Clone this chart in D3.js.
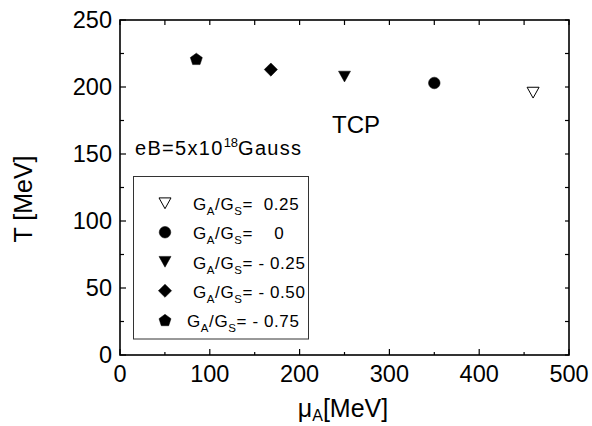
<!DOCTYPE html>
<html>
<head>
<meta charset="utf-8">
<script src="https://cdn.jsdelivr.net/npm/d3@7"></script>
<style>
  body { margin: 0; background: #fff; }
  svg text { font-family: "Liberation Sans", Arial, sans-serif; fill: #000; white-space: pre; }
</style>
</head>
<body>
<div id="chart"></div>
<script>
// data
const ratios = ['0.25', '0', '-0.25', '-0.50', '-0.75']
const symbols = ['triangleOpen', 'circle', 'triangle', 'diamond', 'pentagon']
const muA = [460, 350, 250, 168, 85]
const temp = [196, 203, 208, 213, 221]
const legendValues = ['  0.25', '    0', ' - 0.25', ' - 0.50', ' - 0.75']
const xTicks = [0, 100, 200, 300, 400, 500]
const yTicks = [0, 50, 100, 150, 200, 250]

const W = 592, H = 426
const m = { left: 120, right: 23, top: 20, bottom: 71 }

const svg = d3.select('#chart').append('svg')
  .attr('width', W).attr('height', H)

const x = d3.scaleLinear().domain([0, 500]).range([m.left, W - m.right])
const y = d3.scaleLinear().domain([0, 250]).range([H - m.bottom, m.top])

// ---- axes: ticks point inward, like Origin does
function ticks(axis, len, vals) {
  const g = svg.append('g')
  vals.forEach(v => {
    let l = g.append('line').attr('stroke', '#000').attr('stroke-width', 1.2)
    if (axis == 'bottom') l.attr('x1', x(v)).attr('x2', x(v)).attr('y1', y(0)).attr('y2', y(0) - len)
    if (axis == 'top') l.attr('x1', x(v)).attr('x2', x(v)).attr('y1', y(250)).attr('y2', y(250) + len)
    if (axis == 'left') l.attr('y1', y(v)).attr('y2', y(v)).attr('x1', x(0)).attr('x2', x(0) + len)
    if (axis == 'right') l.attr('y1', y(v)).attr('y2', y(v)).attr('x1', x(500)).attr('x2', x(500) - len)
  })
}
const xMinor = d3.range(50, 500, 100)
const yMinor = d3.range(25, 250, 50)
ticks('bottom', 6, xTicks)
ticks('bottom', 3, xMinor)
ticks('left', 6, yTicks)
ticks('left', 4, yMinor)
ticks('top', 5, xTicks.concat(xMinor))
ticks('right', 4, yTicks.concat(yMinor))

svg.append('rect')
  .attr('x', x(0)).attr('y', y(250))
  .attr('width', x(500) - x(0)).attr('height', y(0) - y(250))
  .attr('fill', 'none').attr('stroke', '#000').attr('stroke-width', 1.6)

svg.append('g').selectAll('text')
  .data(xTicks).enter().append('text')
  .attr('x', d => x(d)).attr('y', y(0) + 27)
  .attr('text-anchor', 'middle').attr('font-size', 23.5)
  .text(d => d)

svg.append('g').selectAll('text')
  .data(yTicks).enter().append('text')
  .attr('x', x(0) - 8).attr('y', d => y(d)).attr('dy', '0.36em')
  .attr('text-anchor', 'end').attr('font-size', 23.5)
  .text(d => d)

// axis titles
let xl = svg.append('text')
  .attr('x', 343).attr('y', 417).attr('text-anchor', 'middle').attr('font-size', 25)
xl.append('tspan').text('μ')
xl.append('tspan').attr('font-size', 16).attr('dy', 4).text('A')
xl.append('tspan').attr('dy', -4).text('[MeV]')

svg.append('text')
  .attr('transform', 'translate(32,199) rotate(-90)')
  .attr('text-anchor', 'middle').attr('font-size', 25)
  .text('T [MeV]')

// ---- marker shapes
function shape(kind, r) {
  const p = d3.path()
  if (kind == 'circle') {
    p.arc(0, 0, r, 0, 2 * Math.PI)
  } else if (kind == 'triangle' || kind == 'triangleOpen') {
    p.moveTo(-r, -r * 0.85); p.lineTo(r, -r * 0.85); p.lineTo(0, r * 0.95); p.closePath()
  } else if (kind == 'diamond') {
    p.moveTo(0, -r); p.lineTo(r, 0); p.lineTo(0, r); p.lineTo(-r, 0); p.closePath()
  } else if (kind == 'pentagon') {
    for (let k = 0; k < 5; k++) {
      let a = -Math.PI / 2 + k * 2 * Math.PI / 5
      let px = r * Math.cos(a), py = r * Math.sin(a) + r * 0.1
      k == 0 ? p.moveTo(px, py) : p.lineTo(px, py)
    }
    p.closePath()
  }
  return p.toString()
}
const radius = { circle: 5.8, triangle: 6, triangleOpen: 6, diamond: 6.6, pentagon: 6.3 }

function marker(g, kind) {
  g.append('path')
    .attr('d', shape(kind, radius[kind]))
    .attr('fill', kind == 'triangleOpen' ? '#fff' : '#000')
    .attr('stroke', '#000')
    .attr('stroke-width', kind == 'triangleOpen' ? 1 : 0.5)
}

ratios.forEach((r, i) => {
  let g = svg.append('g').attr('transform', `translate(${x(muA[i])},${y(temp[i])})`)
  marker(g, symbols[i])
})

// ---- annotations
svg.append('text').attr('x', 332).attr('y', 133).attr('font-size', 24).text('TCP')

let eb = svg.append('text').attr('x', 135).attr('y', 155).attr('font-size', 20).attr('letter-spacing', 1.3)
eb.append('tspan').text('eB=5x10')
eb.append('tspan').attr('font-size', 13).attr('dy', -8).attr('letter-spacing', 0).text('18')
eb.append('tspan').attr('dy', 8).text('Gauss')

// ---- legend
svg.append('rect')
  .attr('x', 133.5).attr('y', 176.5).attr('width', 175).attr('height', 162.5)
  .attr('fill', 'none').attr('stroke', '#333').attr('stroke-width', 1)

const legendY = d3.scaleLinear().domain([0, 4]).range([203, 320])
const legendTextX = [193, 193, 193, 193, 187]
ratios.forEach((r, i) => {
  let g = svg.append('g').attr('transform', `translate(165,${legendY(i)})`)
  marker(g, symbols[i])
  let t = svg.append('text').attr('x', legendTextX[i]).attr('y', legendY(i) + 7)
    .attr('font-size', 17).attr('letter-spacing', 0.6)
  t.append('tspan').text('G')
  t.append('tspan').attr('font-size', 11.5).attr('dy', 5).text('A')
  t.append('tspan').attr('dy', -5).text('/G')
  t.append('tspan').attr('font-size', 11.5).attr('dy', 5).text('S')
  t.append('tspan').attr('dy', -5).text('=' + legendValues[i])
})
</script>
</body>
</html>
